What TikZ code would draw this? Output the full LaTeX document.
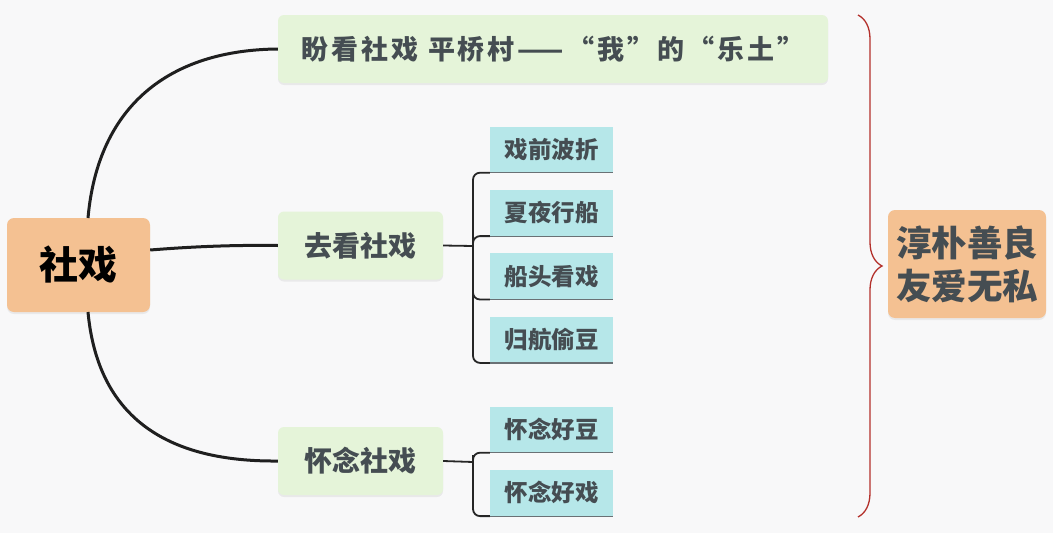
\documentclass[tikz,border=0pt]{standalone}
\usepackage{fontspec}
\newfontfamily\cjk{Noto Sans CJK SC}
\usepackage{xcolor}
\usetikzlibrary{positioning, decorations.pathreplacing, shadows}

\definecolor{bgcol}{HTML}{F8F8F9}
\definecolor{rootcol}{HTML}{F4C192}
\definecolor{topiccol}{HTML}{E5F4D9}
\definecolor{leafcol}{HTML}{B6E7E9}
\definecolor{inkcol}{HTML}{454D52}
\definecolor{bracecol}{HTML}{B3302B}

\begin{document}
\begin{tikzpicture}[x=1pt, y=-1pt, node distance=17pt,
    rootbox/.style={fill=rootcol, rounded corners=7pt, text=black,
        font=\cjk\bfseries\fontsize{39}{42}\selectfont,
        drop shadow={opacity=0.12, shadow xshift=0pt, shadow yshift=-2pt}},
    topicbox/.style={fill=topiccol, rounded corners=6pt, text=inkcol,
        minimum height=68pt, font=\cjk\bfseries\fontsize{28}{32}\selectfont,
        drop shadow={opacity=0.12, shadow xshift=0pt, shadow yshift=-2pt}},
    leafbox/.style={fill=leafcol, text=inkcol, minimum width=123pt, minimum height=46pt,
        font=\cjk\bfseries\fontsize{23.5}{26}\selectfont},
    leafline/.style={draw=inkcol!80, line width=1.2pt},
    branch/.style={draw=black!88, line width=3pt},
    bracket/.style={draw=black!85, line width=1.8pt, rounded corners=7pt}]

    % Background
    \path[use as bounding box, fill=bgcol] (0,0) rectangle (1053,533);

    % Nodes
    \node[rootbox, minimum width=143pt, minimum height=94pt] (root) at (78.5,265) {社戏};
    \node[topicbox, minimum width=550pt,
        font=\cjk\bfseries\fontsize{27}{32}\selectfont\addfontfeatures{LetterSpace=11}]
        (hope) at (553,49) {盼看社戏 平桥村——“我”的“乐土”};
    \node[topicbox, minimum width=165pt] (watch) at (360.5,245.5) {去看社戏};
    \node[topicbox, minimum width=165pt] (miss) at (360.5,461) {怀念社戏};

    \node[leafbox] (w1) at (551.5,149.5) {戏前波折};
    \node[leafbox, below=of w1] (w2) {夏夜行船};
    \node[leafbox, below=of w2] (w3) {船头看戏};
    \node[leafbox, below=of w3] (w4) {归航偷豆};
    \node[leafbox] (m1) at (551.5,429.5) {怀念好豆};
    \node[leafbox, below=of m1] (m2) {怀念好戏};

    \node[fill=rootcol, rounded corners=7pt, text=inkcol, minimum width=158pt, minimum height=108pt,
        align=center, font=\cjk\bfseries\fontsize{35.5}{43}\selectfont,
        drop shadow={opacity=0.12, shadow xshift=0pt, shadow yshift=-2pt}]
        (virtue) at (967,264) {淳朴善良\\友爱无私};

    \coordinate (wj) at (473,246);
    \coordinate (mj) at (473,462);
    \coordinate (btop) at (858,15);
    \coordinate (bbot) at (858,517);

    % Edges
    \draw[branch] (88,218) .. controls (98,105) and (170,50) .. (hope.west);
    \draw[branch] (root.east) ++(0,-15) .. controls (200,246) and (240,245) .. (watch.west);
    \draw[branch] (88,312) .. controls (98,420) and (170,462) .. (miss.west);

    \draw[bracket] (watch.east) -- (wj);
    \draw[bracket] (w1.south west) -| (wj) |- (w4.south west);
    \draw[bracket] (wj) |- (w2.south west);
    \draw[bracket] (wj) |- (w3.south west);
    \draw[bracket] (miss.east) -- (mj);
    \draw[bracket] (m1.south west) -| (mj) |- (m2.south west);

    \foreach \n in {w1,w2,w3,w4,m1,m2}
        \draw[leafline] (\n.south west) -- (\n.south east);

    % Brace
    \draw[bracecol, line width=1.3pt, decorate, decoration={brace, amplitude=24pt}] (btop) -- (bbot);
\end{tikzpicture}
\end{document}
